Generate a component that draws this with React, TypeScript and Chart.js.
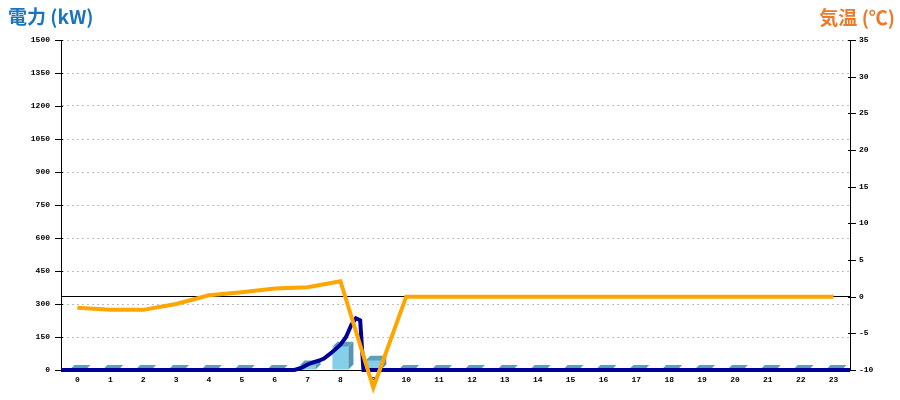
import React, { useEffect, useRef } from 'react';
import { Chart, registerables } from 'chart.js';

Chart.register(...registerables);

const hourLabels = ['0', '1', '2', '3', '4', '5', '6', '7', '8', '9', '10', '11', '12', '13', '14', '15', '16', '17', '18', '19', '20', '21', '22', '23'];
const barValues = [0, 0, 0, 0, 0, 0, 0, 20, 106, 42, 0, 0, 0, 0, 0, 0, 0, 0, 0, 0, 0, 0, 0, 0];
const tempValues = [-1.5, -1.8, -1.8, -1.0, 0.2, 0.6, 1.1, 1.3, 2.1, -12.4, 0, 0, 0, 0, 0, 0, 0, 0, 0, 0, 0, 0, 0, 0];
const powerTimes = [0, 7.1, 7.33, 7.5, 7.67, 7.83, 8.0, 8.17, 8.33, 8.5, 8.67, 8.83, 8.97, 9.1, 9.2, 24];
const powerValues = [0, 0, 11, 25, 35, 42, 52, 72, 92, 115, 150, 205, 235, 226, 0, 0];
const leftTitle = '電力 (kW)';
const rightTitle = '気温 (℃)';

const TICK_FONT = { family: '"Liberation Mono", monospace', size: 8, weight: 'bold' };

const bar3dPlugin = {
  id: 'bar3d',
  afterDatasetDraw(chart: any, args: any) {
    const meta = args.meta;
    if (meta.type !== 'bar') return;
    const ctx = chart.ctx;
    const d = 5;
    ctx.save();
    meta.data.forEach((el: any) => {
      const { x, y, base, width } = el.getProps(['x', 'y', 'base', 'width'], true);
      const l = x - width / 2;
      const r = x + width / 2;
      ctx.fillStyle = '#5ba0bd';
      ctx.beginPath();
      ctx.moveTo(l, y);
      ctx.lineTo(r, y);
      ctx.lineTo(r + d, y - d);
      ctx.lineTo(l + d, y - d);
      ctx.closePath();
      ctx.fill();
      if (base - y > 0.5) {
        ctx.fillStyle = '#5596b2';
        ctx.beginPath();
        ctx.moveTo(r, y);
        ctx.lineTo(r + d, y - d);
        ctx.lineTo(r + d, base - d);
        ctx.lineTo(r, base);
        ctx.closePath();
        ctx.fill();
      }
    });
    ctx.restore();
  },
};

const crossTicksPlugin = {
  id: 'crossTicks',
  beforeDatasetsDraw(chart: any) {
    const ctx = chart.ctx;
    const { left, right } = chart.chartArea;
    const ys = chart.scales.y;
    const y2 = chart.scales.y2;
    ctx.save();
    ctx.strokeStyle = '#000';
    ctx.lineWidth = 1;
    ys.ticks.forEach((_t: any, i: number) => {
      const py = Math.round(ys.getPixelForTick(i)) + 0.5;
      ctx.beginPath();
      ctx.moveTo(left - 6, py);
      ctx.lineTo(left + 2, py);
      ctx.stroke();
    });
    y2.ticks.forEach((_t: any, i: number) => {
      const py = Math.round(y2.getPixelForTick(i)) + 0.5;
      ctx.beginPath();
      ctx.moveTo(right - 2, py);
      ctx.lineTo(right + 6, py);
      ctx.stroke();
    });
    ctx.restore();
  },
};

const titlesPlugin = {
  id: 'titles',
  afterDraw(chart: any) {
    const ctx = chart.ctx;
    ctx.save();
    ctx.font = 'bold 19px "Noto Sans CJK JP", sans-serif';
    ctx.textBaseline = 'middle';
    ctx.fillStyle = '#1a74be';
    ctx.textAlign = 'left';
    ctx.fillText(leftTitle, 8, 17);
    ctx.fillStyle = '#ec7a2a';
    ctx.textAlign = 'right';
    ctx.fillText(rightTitle, 895, 18);
    ctx.restore();
  },
};

export default function App() {
  const canvasRef = useRef<HTMLCanvasElement | null>(null);

  useEffect(() => {
    document.body.style.margin = '0';
    const canvas = canvasRef.current;
    if (!canvas) return;
    const chart = new Chart(canvas, {
      type: 'bar',
      data: {
        labels: hourLabels,
        datasets: [
          {
            type: 'line',
            label: '気温',
            data: tempValues,
            xAxisID: 'x',
            yAxisID: 'y2',
            borderColor: '#ffa500',
            borderWidth: 4,
            pointRadius: 0,
            tension: 0,
            clip: false,
            order: 0,
          } as any,
          {
            type: 'line',
            label: '電力',
            data: powerTimes.map((t, i) => ({ x: t, y: powerValues[i] })),
            xAxisID: 'xLine',
            yAxisID: 'y',
            borderColor: '#000099',
            borderWidth: 4,
            pointRadius: 0,
            tension: 0,
            clip: 4,
            order: 1,
          } as any,
          {
            type: 'bar',
            label: '電力量',
            data: barValues,
            xAxisID: 'x',
            yAxisID: 'y',
            backgroundColor: '#87ceeb',
            borderWidth: 0,
            grouped: false,
            maxBarThickness: 16,
            order: 2,
          } as any,
        ],
      },
      options: {
        responsive: false,
        animation: false,
        layout: { padding: { top: 40, left: 0, right: 0, bottom: 0 } },
        plugins: {
          legend: { display: false },
          tooltip: { enabled: false },
          title: { display: false },
        },
        scales: {
          x: {
            type: 'category',
            position: 'bottom',
            offset: true,
            grid: { display: false, drawTicks: false },
            border: { display: true, color: '#000', width: 1 },
            ticks: { font: TICK_FONT, color: '#000', padding: 5, maxRotation: 0, autoSkip: false },
            afterFit: (s: any) => { s.height = 30; },
          },
          xLine: {
            type: 'linear',
            position: 'bottom',
            display: false,
            offset: false,
            grid: { offset: false },
            min: 0,
            max: 24,
          },
          y: {
            type: 'linear',
            position: 'left',
            min: 0,
            max: 1500,
            ticks: { stepSize: 150, font: TICK_FONT, color: '#000', padding: 11, callback: (v: any) => String(v) },
            grid: {
              drawTicks: false,
              color: (c: any) => (c.tick && c.tick.value === 0 ? 'rgba(0,0,0,0)' : '#bdbdbd'),
              lineWidth: 1,
            },
            border: { display: true, color: '#000', width: 1, dash: [2, 3] },
            afterFit: (s: any) => { s.width = 61; },
          },
          y2: {
            type: 'linear',
            position: 'right',
            min: -10,
            max: 35,
            ticks: { stepSize: 5, font: TICK_FONT, color: '#000', padding: 9, callback: (v: any) => String(v) },
            grid: {
              drawTicks: false,
              drawOnChartArea: true,
              color: (c: any) => (c.tick && c.tick.value === 0 ? '#000' : 'rgba(0,0,0,0)'),
              lineWidth: 1,
            },
            border: { display: true, color: '#000', width: 1 },
            afterFit: (s: any) => { s.width = 50; },
          },
        },
      } as any,
      plugins: [bar3dPlugin, crossTicksPlugin, titlesPlugin],
    });
    return () => chart.destroy();
  }, []);

  return (
    <div style={{ position: 'absolute', left: 0, top: 0, width: 900, height: 400 }}>
      <canvas ref={canvasRef} width={900} height={400} style={{ display: 'block' }} />
    </div>
  );
}
